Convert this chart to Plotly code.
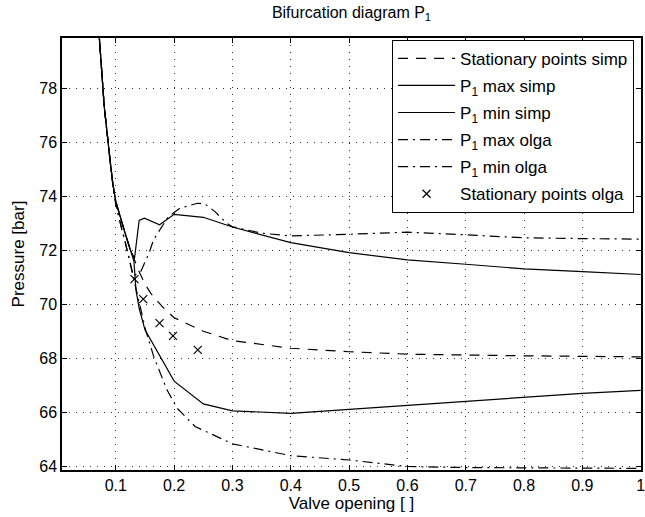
import plotly.graph_objects as go

# ---- data ----
stat_simp_x = [0.07, 0.08, 0.09, 0.095, 0.10, 0.105, 0.11, 0.115, 0.12, 0.125, 0.13, 0.14, 0.15, 0.16,
               0.18, 0.20, 0.25, 0.30, 0.40, 0.50, 0.60, 0.70, 0.80, 0.90, 1.00]
stat_simp_y = [80.4, 77.35, 75.35, 74.45, 73.8, 73.4, 73.05, 72.7, 72.35, 72.0, 71.75, 71.2, 70.75, 70.4,
               69.9, 69.5, 69.0, 68.65, 68.37, 68.24, 68.15, 68.11, 68.09, 68.07, 68.05]

max_simp_x = [0.07, 0.08, 0.09, 0.095, 0.10, 0.105, 0.11, 0.115, 0.12, 0.125, 0.132, 0.14, 0.149,
              0.175, 0.20, 0.25, 0.30, 0.40, 0.50, 0.60, 0.70, 0.80, 0.90, 1.00]
max_simp_y = [80.4, 77.35, 75.35, 74.45, 73.8, 73.4, 73.05, 72.7, 72.35, 72.0, 71.7, 73.1, 73.19,
              72.94, 73.33, 73.22, 72.86, 72.28, 71.91, 71.64, 71.48, 71.31, 71.21, 71.10]

min_simp_x = [0.07, 0.08, 0.09, 0.095, 0.10, 0.105, 0.11, 0.115, 0.12, 0.125, 0.131, 0.1345, 0.14,
              0.15, 0.179, 0.20, 0.25, 0.30, 0.40, 0.50, 0.60, 0.70, 0.80, 0.90, 1.00]
min_simp_y = [80.4, 77.35, 75.35, 74.45, 73.8, 73.4, 73.05, 72.7, 72.35, 72.0, 71.6, 70.53, 69.85,
              69.05, 67.94, 67.15, 66.31, 66.05, 65.96, 66.11, 66.27, 66.42, 66.57, 66.70, 66.81]

max_olga_x = [0.07, 0.08, 0.09, 0.095, 0.10, 0.105, 0.11, 0.115, 0.12, 0.125, 0.13, 0.1425, 0.157,
              0.165, 0.19, 0.21, 0.24, 0.253, 0.27, 0.29, 0.30, 0.35, 0.40, 0.50, 0.60, 0.70, 0.80,
              0.90, 1.00]
max_olga_y = [80.4, 77.35, 75.35, 74.4, 73.7, 73.2, 72.8, 72.4, 71.95, 71.5, 71.05, 71.2, 71.9,
              72.4, 73.24, 73.56, 73.74, 73.71, 73.43, 73.0, 72.87, 72.63, 72.53, 72.59, 72.67, 72.57,
              72.46, 72.43, 72.41]

min_olga_x = [0.07, 0.08, 0.09, 0.095, 0.10, 0.105, 0.11, 0.115, 0.12, 0.125, 0.13, 0.14, 0.151,
              0.165, 0.1877, 0.205, 0.236, 0.30, 0.40, 0.50, 0.576, 0.60, 0.70, 0.80, 0.90, 1.00]
min_olga_y = [80.4, 77.35, 75.35, 74.4, 73.7, 73.2, 72.8, 72.4, 71.95, 71.5, 71.05, 70.1, 69.05,
              68.06, 66.83, 66.15, 65.47, 64.83, 64.39, 64.23, 64.05, 63.99, 63.95, 63.95, 63.93, 63.92]

stat_olga_x = [0.132, 0.147, 0.175, 0.198, 0.2405]
stat_olga_y = [70.93, 70.19, 69.30, 68.83, 68.31]

x_ticks = [0.1, 0.2, 0.3, 0.4, 0.5, 0.6, 0.7, 0.8, 0.9, 1.0]
x_tick_labels = ["0.1", "0.2", "0.3", "0.4", "0.5", "0.6", "0.7", "0.8", "0.9", "1"]
y_ticks = [64, 66, 68, 70, 72, 74, 76, 78]

FONT = "Liberation Sans, Arial, sans-serif"
LW = 1.2
DASH = "10px,8px"
DASHDOT = "10px,5px,2px,5px"

fig = go.Figure()
fig.add_trace(go.Scatter(x=stat_simp_x, y=stat_simp_y, mode="lines", name="Stationary points simp",
                         line=dict(color="black", width=LW, dash=DASH), legendgroup="a"))
fig.add_trace(go.Scatter(x=max_simp_x, y=max_simp_y, mode="lines", name="P<sub>1</sub> max simp",
                         line=dict(color="black", width=LW), legendgroup="b"))
fig.add_trace(go.Scatter(x=min_simp_x, y=min_simp_y, mode="lines", name="P<sub>1</sub> min simp",
                         line=dict(color="black", width=LW), legendgroup="c"))
fig.add_trace(go.Scatter(x=max_olga_x, y=max_olga_y, mode="lines", name="P<sub>1</sub> max olga",
                         line=dict(color="black", width=LW, dash=DASHDOT), legendgroup="d"))
fig.add_trace(go.Scatter(x=min_olga_x, y=min_olga_y, mode="lines", name="P<sub>1</sub> min olga",
                         line=dict(color="black", width=LW, dash=DASHDOT), legendgroup="e"))
fig.add_trace(go.Scatter(x=stat_olga_x, y=stat_olga_y, mode="markers", name="Stationary points olga",
                         marker=dict(symbol="x-thin-open", size=8, color="black",
                                     line=dict(color="black", width=1.2)), legendgroup="f"))

axis_common = dict(
    showline=True, linecolor="black", linewidth=1.5, mirror="ticks",
    ticks="inside", ticklen=5, tickwidth=1, tickcolor="black",
    showgrid=True, gridcolor="#333333", gridwidth=1, griddash="1px,6px",
    zeroline=False, tickfont=dict(family=FONT, size=16, color="black"),
    ticklabeloverflow="allow",
)

fig.update_layout(
    width=645, height=517,
    margin=dict(l=62, r=0, t=38, b=47),
    paper_bgcolor="white", plot_bgcolor="white",
    font=dict(family=FONT, size=16, color="black"),
    title=dict(text="Bifurcation diagram P<sub>1</sub>", x=0.5, xref="paper", xanchor="center",
               y=1 - 12 / 517, yref="container", yanchor="middle",
               font=dict(family=FONT, size=16, color="black")),
    xaxis=dict(range=[0.0077, 1.0005], tickvals=x_ticks, ticktext=x_tick_labels,
               title=dict(text="Valve opening [ ]", font=dict(family=FONT, size=17), standoff=2),
               **axis_common),
    yaxis=dict(range=[63.86, 79.86], tickvals=y_ticks,
               title=dict(text="Pressure [bar]", font=dict(family=FONT, size=17), standoff=10),
               **axis_common),
    legend=dict(x=0.988, xanchor="right", y=0.996, yanchor="top",
                bgcolor="white", bordercolor="black", borderwidth=1,
                font=dict(family=FONT, size=17, color="black"),
                itemwidth=57, tracegroupgap=2),
    showlegend=True,
)

fig.write_html("out.html")
